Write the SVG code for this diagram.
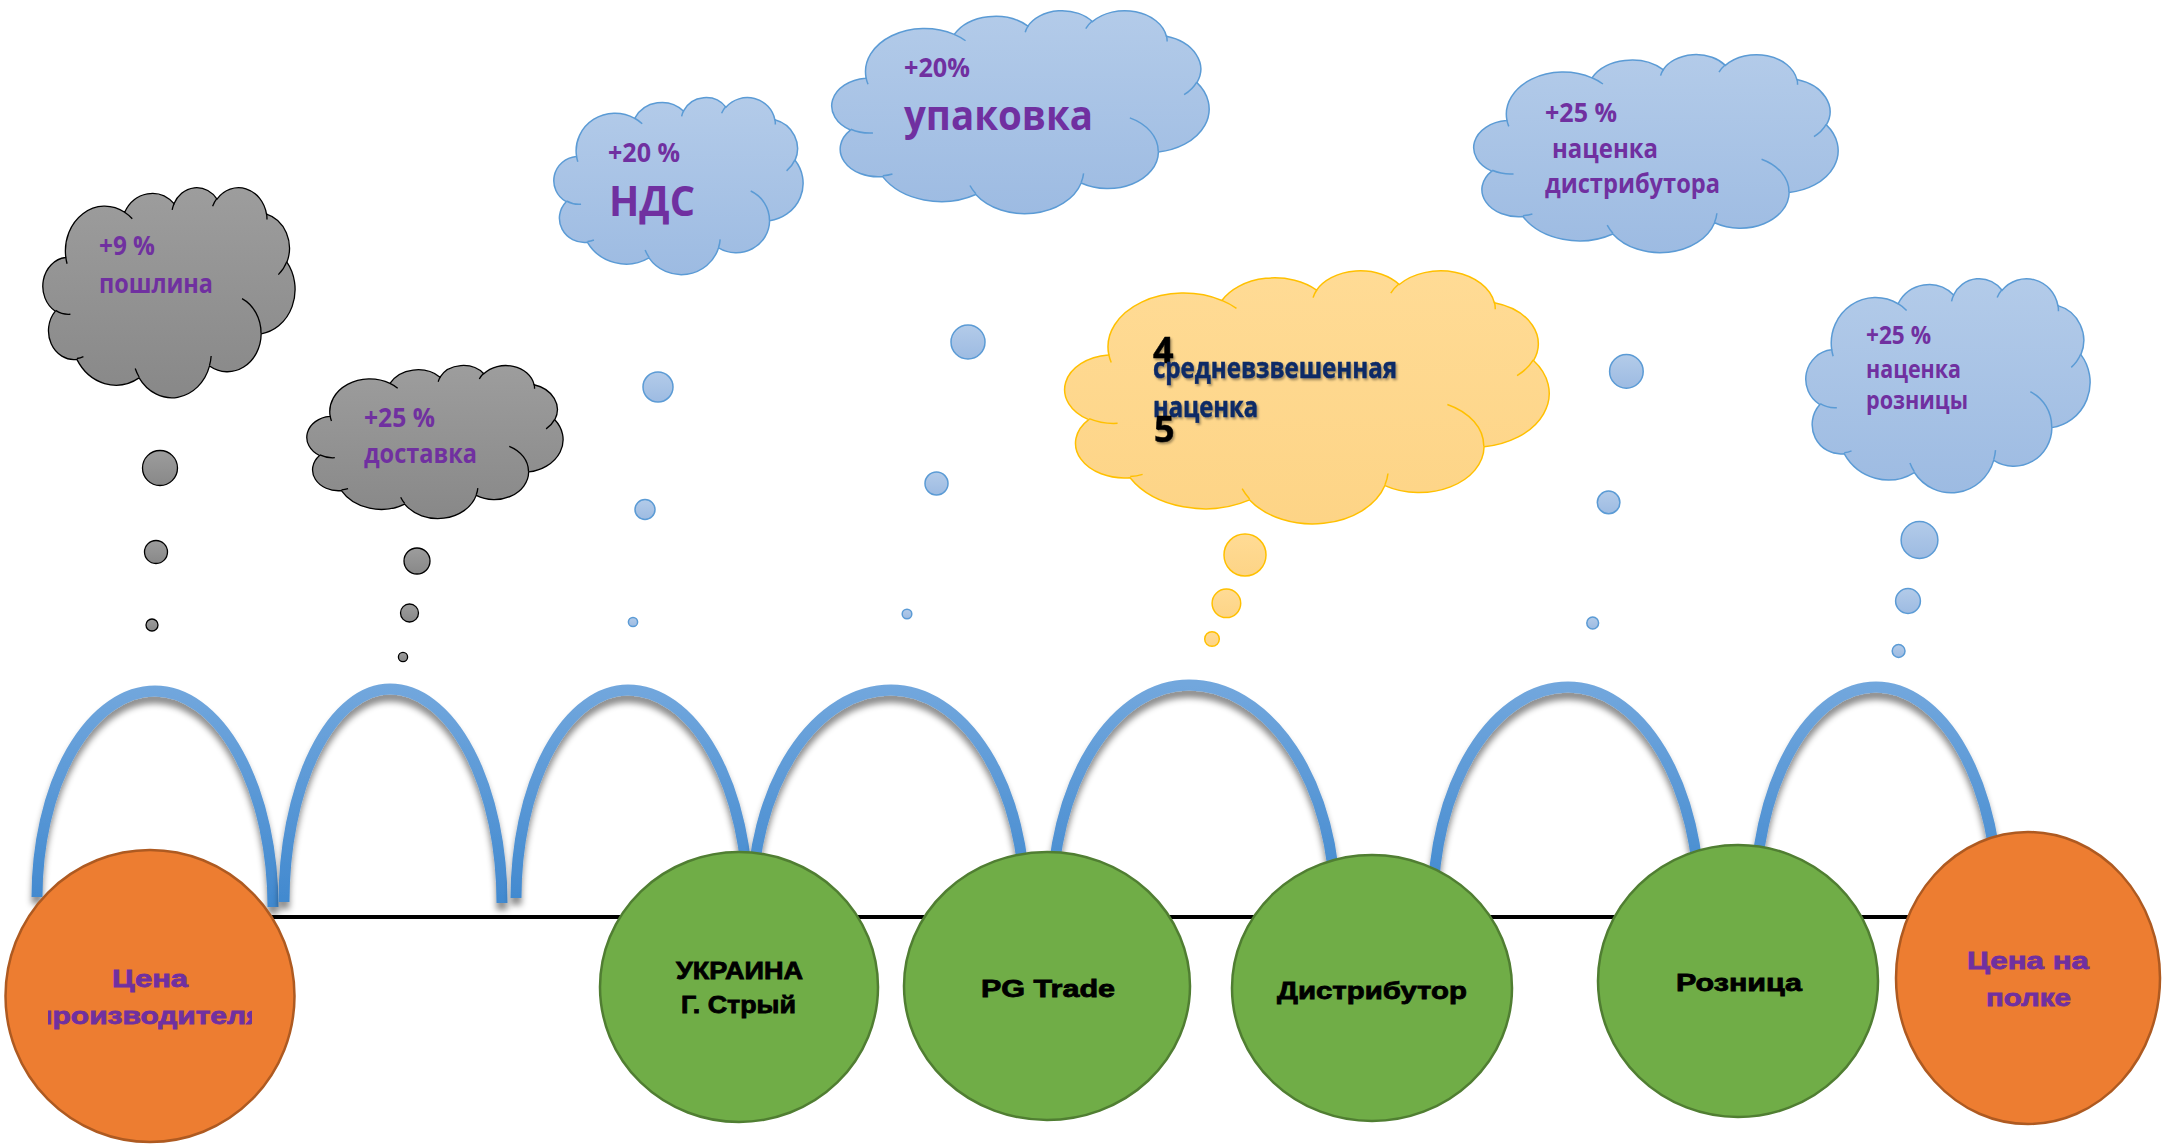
<svg xmlns="http://www.w3.org/2000/svg" xmlns:xlink="http://www.w3.org/1999/xlink" width="2172" height="1144" viewBox="0 0 2172 1144">
<style>
.gray{fill:url(#gGray);stroke:#000;stroke-width:1.3}
.blue{fill:url(#gBlue);stroke:#5b9bd5;stroke-width:1.5}
.yellow{fill:url(#gYellow);stroke:#ffc000;stroke-width:1.5}
.inner{fill:none}
.ctext{font-family:"Open Sans","Noto Sans",sans-serif;font-weight:700;fill:#7030a0}
.ntext{font-family:"Liberation Sans",Arial,sans-serif;font-weight:700;font-size:24px;stroke-width:0.8}
.purple{fill:#7030a0;stroke:#7030a0}
.black{fill:#000;stroke:#000}
.ytext{font-family:"Open Sans","Noto Sans",sans-serif;font-weight:700;stroke-width:0.5}
.orange{fill:#ed7d31;stroke:#ae5a21;stroke-width:2.5}
.green{fill:#70ad47;stroke:#507e32;stroke-width:2.5}
.arch{fill:none;stroke:url(#gArch);stroke-width:11;filter:url(#archShadow)}
</style>
<defs>
<linearGradient id="gGray" x1="0" y1="0" x2="0" y2="1"><stop offset="0" stop-color="#9d9d9d"/><stop offset="1" stop-color="#888888"/></linearGradient>
<linearGradient id="gBlue" x1="0" y1="0" x2="0" y2="1"><stop offset="0" stop-color="#b3cbe9"/><stop offset="1" stop-color="#9dbbe2"/></linearGradient>
<linearGradient id="gYellow" x1="0" y1="0" x2="0" y2="1"><stop offset="0" stop-color="#ffdb95"/><stop offset="1" stop-color="#fdd486"/></linearGradient>
<linearGradient id="gArch" gradientUnits="userSpaceOnUse" x1="0" y1="685" x2="0" y2="905"><stop offset="0" stop-color="#72a7dd"/><stop offset="1" stop-color="#4189cf"/></linearGradient>
<filter id="archShadow" x="-20%" y="-20%" width="140%" height="140%"><feDropShadow dx="0" dy="7" stdDeviation="3" flood-color="#000" flood-opacity="0.45"/></filter>
<filter id="txtShadow" x="-10%" y="-30%" width="120%" height="160%"><feDropShadow dx="1.5" dy="2" stdDeviation="1" flood-color="#000" flood-opacity="0.35"/></filter>
<clipPath id="clipProd"><rect x="48" y="995" width="204" height="40"/></clipPath>
<path id="cloud" vector-effect="non-scaling-stroke" d="M39,143.7 A67.53,91.9 0 0 1 140.03,52 A53.33,72.67 0 0 1 224.53,34.27 A43.65,59.45 0 0 1 298.32,24.82 A48.57,65.95 0 0 1 383.18,55.77 A53.33,72.73 0 0 1 418.17,154.6 A67.75,92.2 0 0 1 374.02,302.02 A57.85,78.67 0 0 1 285.53,368.11 A67.52,92.15 0 0 1 164.78,392.64 A77.2,105.43 0 0 1 58.06,354.66 A43.6,59.18 0 0 1 21.13,255.46 A43.45,59.45 0 0 1 38.64,145.03 Z"/>
<path id="cloudIn" vector-effect="non-scaling-stroke" d="M46.93,261.77 A43.45,59.45 0 0 1 21.59,253.79 M69.28,348.99 A43.6,59.18 0 0 1 58.21,352.8 M164.78,390.9 A67.52,92.15 0 0 1 158.1,373.49 M288.27,347.51 A67.52,92.15 0 0 1 285.61,366.6 M341.29,229.54 A57.85,78.67 0 0 1 373.77,300.87 M417.98,153.54 A53.33,72.73 0 0 1 403.48,180.32 M383.24,54.26 A48.57,65.95 0 0 1 384,66.9 M290.78,39.52 A48.57,65.95 0 0 1 298.19,23.41 M221.41,47.2 A43.65,59.45 0 0 1 225,33.29 M140,51.92 A67.53,91.9 0 0 1 153.03,65.43 M41.27,157.89 A67.53,91.9 0 0 1 39,143.7"/>
</defs>
<rect width="2172" height="1144" fill="#fff"/>

<g id="connectors">
<path d="M150,917 H2028" stroke="#000" stroke-width="4" fill="none"/>
<path class="arch" d="M37,897 A118,206 0 0 1 155,691 A118,216 0 0 1 273,907"/>
<path class="arch" d="M284,902 A106,213 0 0 1 390,689 A112,214 0 0 1 502,903"/>
<path class="arch" d="M516,898 A112,208 0 0 1 628,690 A120,215 0 0 1 748,905"/>
<path class="arch" d="M752,905 A139,215 0 0 1 891,690 A134,215 0 0 1 1025,905"/>
<path class="arch" d="M1052,905 A137,220 0 0 1 1189,685 A146,220 0 0 1 1335,905"/>
<path class="arch" d="M1433,905 A135,218 0 0 1 1568,687 A131.5,218 0 0 1 1699.5,905"/>
<path class="arch" d="M1755,905 A121,218 0 0 1 1876,687 A122,218 0 0 1 1998,905"/>
</g>

<g id="cloud-duty">
<use href="#cloud" class="gray" transform="translate(43,187) scale(0.5833,0.4861)"/>
<use href="#cloudIn" class="gray inner" transform="translate(43,187) scale(0.5833,0.4861)"/>
<text class="ctext" x="99" y="255" font-size="26" textLength="56" lengthAdjust="spacingAndGlyphs">+9 %</text>
<text class="ctext" x="99" y="293" font-size="26" textLength="114" lengthAdjust="spacingAndGlyphs">пошлина</text>
<circle class="gray" cx="160" cy="468" r="17.5"/>
<circle class="gray" cx="156" cy="552" r="11.5"/>
<circle class="gray" cx="152" cy="625" r="6"/>
</g>

<g id="cloud-delivery">
<use href="#cloud" class="gray" transform="translate(307,365) scale(0.5926,0.3542)"/>
<use href="#cloudIn" class="gray inner" transform="translate(307,365) scale(0.5926,0.3542)"/>
<text class="ctext" x="364" y="427" font-size="26" textLength="71" lengthAdjust="spacingAndGlyphs">+25 %</text>
<text class="ctext" x="364" y="463" font-size="26" textLength="113" lengthAdjust="spacingAndGlyphs">доставка</text>
<circle class="gray" cx="417" cy="561" r="13"/>
<circle class="gray" cx="409.5" cy="613" r="9"/>
<circle class="gray" cx="403" cy="657" r="4.6"/>
</g>

<g id="cloud-vat">
<use href="#cloud" class="blue" transform="translate(554,97) scale(0.5764,0.4097)"/>
<use href="#cloudIn" class="blue inner" transform="translate(554,97) scale(0.5764,0.4097)"/>
<text class="ctext" x="608" y="162" font-size="26" textLength="72" lengthAdjust="spacingAndGlyphs">+20 %</text>
<text class="ctext" x="609" y="216" font-size="41" textLength="86" lengthAdjust="spacingAndGlyphs">НДС</text>
<circle class="blue" cx="658" cy="387" r="15"/>
<circle class="blue" cx="645" cy="509.5" r="10"/>
<circle class="blue" cx="633" cy="622" r="4.6"/>
</g>

<g id="cloud-pack">
<use href="#cloud" class="blue" transform="translate(832,10) scale(0.8727,0.4699)"/>
<use href="#cloudIn" class="blue inner" transform="translate(832,10) scale(0.8727,0.4699)"/>
<text class="ctext" x="904" y="77" font-size="26" textLength="66" lengthAdjust="spacingAndGlyphs">+20%</text>
<text class="ctext" x="904" y="130" font-size="41" textLength="189" lengthAdjust="spacingAndGlyphs">упаковка</text>
<circle class="blue" cx="968" cy="342" r="17"/>
<circle class="blue" cx="936.5" cy="483.5" r="11.5"/>
<circle class="blue" cx="907" cy="614" r="4.8"/>
</g>

<g id="cloud-average">
<use href="#cloud" class="yellow" transform="translate(1065,270) scale(1.1204,0.5856)"/>
<use href="#cloudIn" class="yellow inner" transform="translate(1065,270) scale(1.1204,0.5856)"/>
<g filter="url(#txtShadow)">
<text class="ytext" x="1153" y="363" font-size="36" fill="#000" stroke="#000">4</text>
<text class="ytext" x="1153" y="378" font-size="28" fill="#0b2a66" stroke="#0b2a66" textLength="244" lengthAdjust="spacingAndGlyphs">средневзвешенная</text>
<text class="ytext" x="1153" y="417" font-size="28" fill="#0b2a66" stroke="#0b2a66" textLength="105" lengthAdjust="spacingAndGlyphs">наценка</text>
<text class="ytext" x="1154" y="442" font-size="36" fill="#000" stroke="#000">5</text>
</g>
<circle class="yellow" cx="1245" cy="555" r="21"/>
<circle class="yellow" cx="1226.4" cy="603.3" r="14.3"/>
<circle class="yellow" cx="1212" cy="639" r="7.3"/>
</g>

<g id="cloud-distributor">
<use href="#cloud" class="blue" transform="translate(1474,54) scale(0.8426,0.4583)"/>
<use href="#cloudIn" class="blue inner" transform="translate(1474,54) scale(0.8426,0.4583)"/>
<text class="ctext" x="1545" y="122" font-size="27" textLength="72" lengthAdjust="spacingAndGlyphs">+25 %</text>
<text class="ctext" x="1552" y="158" font-size="27" textLength="106" lengthAdjust="spacingAndGlyphs">наценка</text>
<text class="ctext" x="1545" y="193" font-size="27" textLength="175" lengthAdjust="spacingAndGlyphs">дистрибутора</text>
<circle class="blue" cx="1626.4" cy="371.4" r="16.8"/>
<circle class="blue" cx="1608.6" cy="502.4" r="11.3"/>
<circle class="blue" cx="1592.7" cy="623" r="5.9"/>
</g>

<g id="cloud-retail">
<use href="#cloud" class="blue" transform="translate(1806,278) scale(0.6574,0.4954)"/>
<use href="#cloudIn" class="blue inner" transform="translate(1806,278) scale(0.6574,0.4954)"/>
<text class="ctext" x="1866" y="344" font-size="25" textLength="65" lengthAdjust="spacingAndGlyphs">+25 %</text>
<text class="ctext" x="1866" y="378" font-size="25" textLength="95" lengthAdjust="spacingAndGlyphs">наценка</text>
<text class="ctext" x="1866" y="409" font-size="25" textLength="102" lengthAdjust="spacingAndGlyphs">розницы</text>
<circle class="blue" cx="1919.5" cy="540" r="18.4"/>
<circle class="blue" cx="1908" cy="601" r="12.4"/>
<circle class="blue" cx="1898.6" cy="651" r="6.4"/>
</g>

<g id="node-producer">
<ellipse class="orange" cx="150" cy="996" rx="144.5" ry="146"/>
<text class="ntext purple" x="112" y="987" textLength="76" lengthAdjust="spacingAndGlyphs">Цена</text>
<text class="ntext purple" x="34.5" y="1024" textLength="229" lengthAdjust="spacingAndGlyphs" clip-path="url(#clipProd)">производителя</text>
</g>

<g id="node-ukraine">
<ellipse class="green" cx="739" cy="987" rx="139" ry="135"/>
<text class="ntext black" x="676" y="979" textLength="127" lengthAdjust="spacingAndGlyphs">УКРАИНА</text>
<text class="ntext black" x="681" y="1013" textLength="115" lengthAdjust="spacingAndGlyphs">Г. Стрый</text>
</g>

<g id="node-pgtrade">
<ellipse class="green" cx="1047" cy="986" rx="143" ry="134"/>
<text class="ntext black" x="981" y="997" textLength="134" lengthAdjust="spacingAndGlyphs">PG Trade</text>
</g>

<g id="node-distributor">
<ellipse class="green" cx="1372" cy="988" rx="140" ry="133"/>
<text class="ntext black" x="1277" y="999" textLength="190" lengthAdjust="spacingAndGlyphs">Дистрибутор</text>
</g>

<g id="node-retail">
<ellipse class="green" cx="1738" cy="981" rx="140" ry="136"/>
<text class="ntext black" x="1676" y="991" textLength="126" lengthAdjust="spacingAndGlyphs">Розница</text>
</g>

<g id="node-shelf">
<ellipse class="orange" cx="2028" cy="978" rx="132" ry="146"/>
<text class="ntext purple" x="1967" y="969" textLength="122" lengthAdjust="spacingAndGlyphs">Цена на</text>
<text class="ntext purple" x="1986" y="1006" textLength="85" lengthAdjust="spacingAndGlyphs">полке</text>
</g>
</svg>
